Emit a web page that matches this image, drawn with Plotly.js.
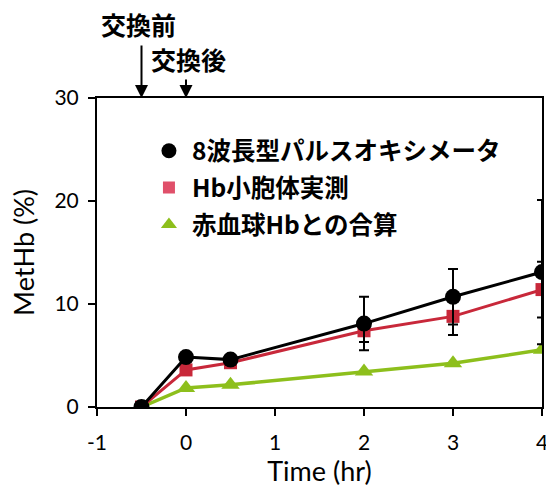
<!DOCTYPE html>
<html>
<head>
<meta charset="utf-8">
<script src="https://cdn.plot.ly/plotly-3.0.1.min.js"></script>
<style>html,body{margin:0;padding:0;background:#fff;}#chart{width:546px;height:490px;}</style>
</head>
<body>
<div id="chart"></div>
<script>
const timeHr = [-0.5, 0, 0.5, 2, 3, 4];
const pulseOx = [0, 4.85, 4.6, 8.1, 10.7, 13.1];
const pulseOxErr = [0, 0.3, 0.3, 2.6, 2.7, 7.0];
const hbVesicle = [0, 3.6, 4.3, 7.4, 8.8, 11.4];
const hbVesicleErr = [0, 0.2, 0.2, 1.1, 1.8, 2.7];
const combined = [0, 1.85, 2.15, 3.45, 4.25, 5.55];
const seriesNames = ['8波長型パルスオキシメータ', 'Hb小胞体実測', '赤血球Hbとの合算'];
const xTicks = [-1, 0, 1, 2, 3, 4];
const yTicks = [0, 10, 20, 30];

const black = '#000000', red = '#c8283a', green = '#8dbf1c';
const jp = '"Noto Sans CJK JP", "Noto Sans", sans-serif';
const lat = 'Lato, "Open Sans", sans-serif';

const traces = [
  {x: timeHr, y: combined, mode: 'lines+markers', showlegend: false,
   line: {color: green, width: 3.5}, marker: {symbol: 'triangle-up', size: 16, color: green}},
  {x: timeHr, y: hbVesicle, mode: 'lines+markers', showlegend: false,
   error_y: {type: 'data', array: hbVesicleErr, color: black, thickness: 2, width: 5},
   line: {color: red, width: 3}, marker: {symbol: 'square', size: 13, color: red}},
  {x: timeHr, y: pulseOx, mode: 'lines+markers', showlegend: false,
   error_y: {type: 'data', array: pulseOxErr, color: black, thickness: 2, width: 5},
   line: {color: black, width: 3}, marker: {symbol: 'circle', size: 16, color: black}},
  {x: [null], y: [null], mode: 'markers', name: seriesNames[0], legendgroup: 'a',
   marker: {symbol: 'circle', size: 15, color: black}},
  {x: [null], y: [null], mode: 'markers', name: seriesNames[1], legendgroup: 'b',
   marker: {symbol: 'square', size: 12, color: '#e0506a'}},
  {x: [null], y: [null], mode: 'markers', name: seriesNames[2], legendgroup: 'c',
   marker: {symbol: 'triangle-up', size: 14, color: green}}
];

const layout = {
  width: 546, height: 490,
  margin: {l: 97, r: 4, t: 98, b: 83},
  paper_bgcolor: '#fff', plot_bgcolor: '#fff',
  showlegend: true,
  legend: {x: 0.11, y: 0.902, xanchor: 'left', yanchor: 'top', traceorder: 'grouped',
           tracegroupgap: 2, font: {family: jp, size: 24.5, color: '#000', weight: 'bold'},
           bgcolor: 'rgba(0,0,0,0)', itemwidth: 36},
  xaxis: {range: [-1, 4], tickvals: xTicks, ticktext: xTicks.map(String), ticklabeloverflow: 'allow',
          showgrid: false, zeroline: false, showline: true, linecolor: '#000', linewidth: 2,
          mirror: true, ticks: 'outside', ticklen: 7, tickwidth: 2, tickcolor: '#000',
          ticklabelstandoff: 9,
          tickfont: {family: lat, size: 21, color: '#000'},
          title: {text: 'Time (hr)', font: {family: lat, size: 27, color: '#000'}, standoff: 8}},
  yaxis: {range: [0, 30], tickvals: yTicks, ticktext: yTicks.map(String),
          showgrid: false, zeroline: false, showline: true, linecolor: '#000', linewidth: 2,
          mirror: true, ticks: 'outside', ticklen: 7, tickwidth: 2, tickcolor: '#000',
          ticklabelstandoff: 5,
          tickfont: {family: lat, size: 21, color: '#000'},
          title: {text: 'MetHb (%)', font: {family: lat, size: 27, color: '#000'}, standoff: 12}},
  annotations: [
    {x: -0.5, y: 30, xref: 'x', yref: 'y', ax: 0, ay: -54, text: '', showarrow: true,
     arrowhead: 2, arrowsize: 1.3, arrowwidth: 2, arrowcolor: '#000'},
    {x: 0, y: 30, xref: 'x', yref: 'y', ax: 0, ay: -20, text: '', showarrow: true,
     arrowhead: 2, arrowsize: 1.3, arrowwidth: 2, arrowcolor: '#000'},
    {x: -0.5, y: 30, xref: 'x', yref: 'y', yshift: 74, xshift: -3, showarrow: false,
     text: '交換前', font: {family: jp, size: 25, color: '#000', weight: 'bold'}},
    {x: 0, y: 30, xref: 'x', yref: 'y', yshift: 39, xshift: 2, showarrow: false,
     text: '交換後', font: {family: jp, size: 25, color: '#000', weight: 'bold'}}
  ]
};

Plotly.newPlot('chart', traces, layout, {displayModeBar: false, staticPlot: true});
</script>
</body>
</html>
